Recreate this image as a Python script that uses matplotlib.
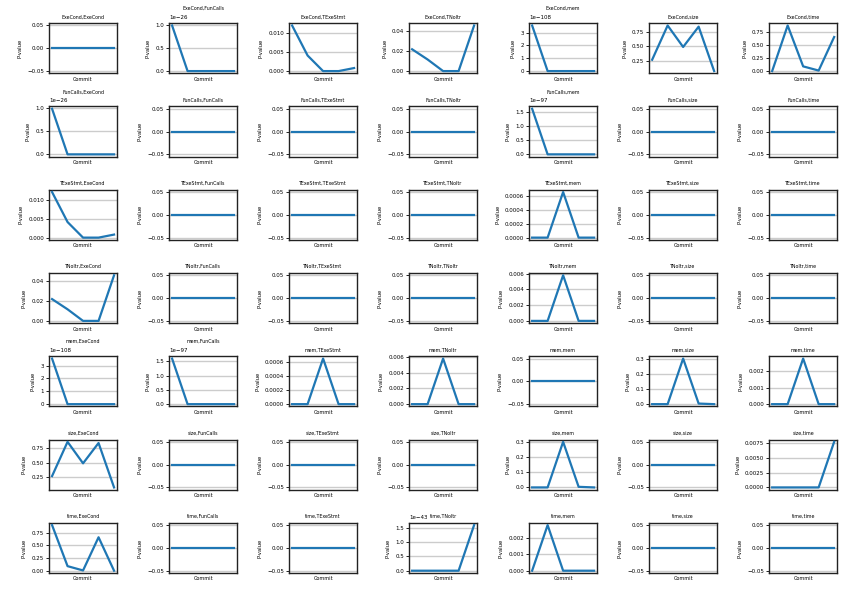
import matplotlib
matplotlib.use('Agg')
import matplotlib.pyplot as plt

metrics = ['ExeCond', 'FunCalls', 'TExeStmt', 'TNoItr', 'mem', 'size', 'time']
commits = [0, 1, 2, 3, 4]
zero = [0, 0, 0, 0, 0]

execond_funcalls = [0.99e-26, 0, 0, 0, 0]
execond_texestmt = [0.0120, 0.0041, 0, 0, 0.0008]
execond_tnoitr = [0.022, 0.0117, 0, 0, 0.046]
execond_mem = [3.55e-108, 0, 0, 0, 0]
execond_size = [0.27, 0.86, 0.49, 0.84, 0.075]
execond_time = [0.0, 0.87, 0.09, 0.01, 0.65]
funcalls_mem = [1.6e-97, 0, 0, 0, 0]
texestmt_mem = [0, 0, 0.00065, 0, 0]
tnoitr_mem = [0, 0, 0.0058, 0, 0]
mem_size = [0, 0, 0.30, 0.004, 0]
mem_time = [0, 0, 0.00277, 0, 0]
size_time = [0, 0, 0, 0, 0.0077]
time_execond = [0.90, 0.09, 0.005, 0.66, 0.0]
time_tnoitr = [0, 0, 0, 0, 1.6e-43]
time_mem = [0, 0.00276, 0, 0, 0]

series = {
    ('ExeCond', 'FunCalls'): execond_funcalls,
    ('ExeCond', 'TExeStmt'): execond_texestmt,
    ('ExeCond', 'TNoItr'): execond_tnoitr,
    ('ExeCond', 'mem'): execond_mem,
    ('ExeCond', 'size'): execond_size,
    ('ExeCond', 'time'): execond_time,
    ('FunCalls', 'ExeCond'): execond_funcalls,
    ('FunCalls', 'mem'): funcalls_mem,
    ('TExeStmt', 'ExeCond'): execond_texestmt,
    ('TExeStmt', 'mem'): texestmt_mem,
    ('TNoItr', 'ExeCond'): execond_tnoitr,
    ('TNoItr', 'mem'): tnoitr_mem,
    ('mem', 'ExeCond'): execond_mem,
    ('mem', 'FunCalls'): funcalls_mem,
    ('mem', 'TExeStmt'): texestmt_mem,
    ('mem', 'TNoItr'): tnoitr_mem,
    ('mem', 'size'): mem_size,
    ('mem', 'time'): mem_time,
    ('size', 'ExeCond'): execond_size,
    ('size', 'mem'): mem_size,
    ('size', 'time'): size_time,
    ('time', 'ExeCond'): time_execond,
    ('time', 'TNoItr'): time_tnoitr,
    ('time', 'mem'): time_mem,
}

fig, axes = plt.subplots(7, 7, figsize=(8.5, 5.95), dpi=100)
fig.subplots_adjust(left=0.0576, right=0.985, top=0.961, bottom=0.037,
                    wspace=0.76, hspace=0.66)

fs = 4.0
for i, a in enumerate(metrics):
    for j, b in enumerate(metrics):
        ax = axes[i, j]
        vals = series.get((a, b), zero)
        ax.plot(commits, vals, color='#1f77b4', linewidth=1.6, zorder=3)
        ax.set_title(f'{a},{b}', fontsize=3.4, pad=3.5)
        ax.set_xlabel('Commit', fontsize=3.6, labelpad=2.5)
        ax.set_ylabel('P-value', fontsize=3.8, labelpad=3.5)
        ax.set_xticks([])
        ax.tick_params(axis='y', labelsize=fs, length=2, width=0.6, pad=1.5)
        ax.yaxis.get_offset_text().set_fontsize(fs)
        ax.yaxis.grid(True, color='#cccccc', linewidth=1.0, zorder=0)
        ax.set_axisbelow(True)
        for s in ax.spines.values():
            s.set_linewidth(1.0)
            s.set_color('#222222')

fig.savefig('out.png', dpi=100)
